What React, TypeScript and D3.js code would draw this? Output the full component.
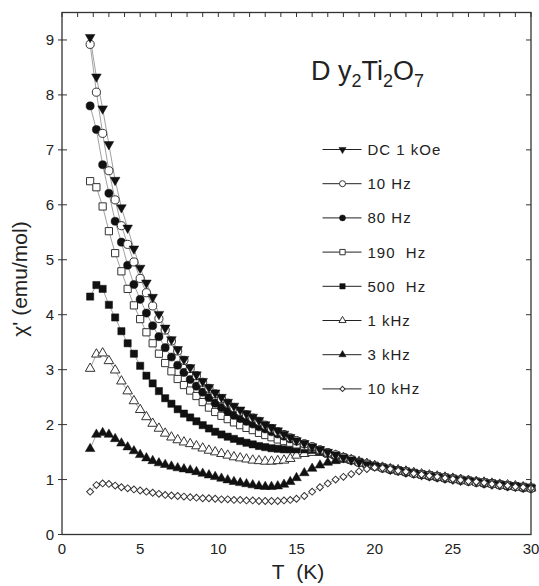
import * as d3 from 'd3';

// Temperature grid (K) shared by all series
const TEMPS = [
  1.8, 2.2, 2.6, 3.0, 3.4, 3.8, 4.2, 4.6, 5.0, 5.4,
  5.8, 6.2, 6.6, 7.0, 7.4, 7.8, 8.2, 8.6, 9.0, 9.4,
  9.8, 10.2, 10.6, 11.0, 11.4, 11.8, 12.2, 12.6, 13.0, 13.4,
  13.8, 14.2, 14.6, 15.0,
  15.5, 16.0, 16.5, 17.0, 17.5, 18.0, 18.5, 19.0, 19.5, 20.0,
  20.5, 21.0, 21.5, 22.0, 22.5, 23.0, 23.5, 24.0, 24.5, 25.0,
  25.5, 26.0, 26.5, 27.0, 27.5, 28.0, 28.5, 29.0, 29.5, 30.0
];

const DC_1KOE = [
  9.05, 8.33, 7.75, 7.10, 6.45, 5.95, 5.58, 5.20, 4.85, 4.58,
  4.32, 4.01, 3.76, 3.55, 3.37, 3.19, 3.04, 2.91, 2.79, 2.68,
  2.58, 2.50, 2.41, 2.34, 2.27, 2.20, 2.14, 2.08, 2.00, 1.95,
  1.89, 1.83, 1.77, 1.71,
  1.66, 1.60, 1.55, 1.50, 1.45, 1.40, 1.36, 1.32, 1.28, 1.25,
  1.22, 1.19, 1.17, 1.14, 1.12, 1.09, 1.07, 1.05, 1.03, 1.01,
  0.99, 0.98, 0.96, 0.94, 0.92, 0.91, 0.89, 0.88, 0.86, 0.85
];

const HZ_10 = [
  8.92, 8.05, 7.30, 6.62, 6.09, 5.62, 5.28, 4.96, 4.66, 4.40,
  4.16, 3.93, 3.72, 3.52, 3.34, 3.17, 3.02, 2.89, 2.77, 2.66,
  2.56, 2.47, 2.39, 2.31, 2.24, 2.18, 2.12, 2.06, 1.99, 1.93,
  1.87, 1.82, 1.76, 1.71,
  1.65, 1.60, 1.54, 1.49, 1.45, 1.40, 1.36, 1.31, 1.28, 1.24,
  1.21, 1.19, 1.16, 1.14, 1.11, 1.09, 1.07, 1.05, 1.03, 1.01,
  0.99, 0.97, 0.95, 0.94, 0.92, 0.90, 0.89, 0.87, 0.86, 0.84
];

const HZ_80 = [
  7.80, 7.37, 6.73, 6.21, 5.70, 5.32, 4.90, 4.55, 4.28, 4.03,
  3.80, 3.60, 3.40, 3.23, 3.08, 2.95, 2.82, 2.70, 2.59, 2.49,
  2.39, 2.31, 2.24, 2.17, 2.11, 2.06, 2.01, 1.96, 1.92, 1.87,
  1.83, 1.79, 1.74, 1.70,
  1.65, 1.59, 1.54, 1.49, 1.44, 1.40, 1.35, 1.31, 1.27, 1.24,
  1.21, 1.18, 1.16, 1.13, 1.11, 1.09, 1.06, 1.04, 1.02, 1.01,
  0.99, 0.97, 0.95, 0.93, 0.92, 0.90, 0.88, 0.87, 0.85, 0.84
];

const HZ_190 = [
  6.43, 6.32, 5.97, 5.52, 5.12, 4.79, 4.47, 4.17, 3.92, 3.68,
  3.48, 3.29, 3.12, 2.97, 2.83, 2.72, 2.62, 2.52, 2.41, 2.31,
  2.23, 2.16, 2.10, 2.04, 1.99, 1.94, 1.90, 1.85, 1.81, 1.77,
  1.73, 1.70, 1.67, 1.64,
  1.61, 1.57, 1.53, 1.48, 1.44, 1.40, 1.36, 1.32, 1.28, 1.25,
  1.22, 1.19, 1.16, 1.14, 1.12, 1.09, 1.07, 1.05, 1.03, 1.01,
  0.99, 0.98, 0.96, 0.94, 0.93, 0.91, 0.89, 0.88, 0.86, 0.85
];

const HZ_500 = [
  4.33, 4.54, 4.47, 4.18, 3.95, 3.70, 3.48, 3.29, 3.07, 2.89,
  2.75, 2.61, 2.48, 2.38, 2.28, 2.20, 2.13, 2.06, 1.99, 1.93,
  1.87, 1.82, 1.78, 1.74, 1.70, 1.67, 1.64, 1.61, 1.59, 1.57,
  1.56, 1.55, 1.55, 1.55,
  1.55, 1.54, 1.51, 1.47, 1.44, 1.40, 1.36, 1.32, 1.29, 1.25,
  1.22, 1.20, 1.17, 1.15, 1.12, 1.10, 1.08, 1.06, 1.04, 1.02,
  1.00, 0.98, 0.96, 0.95, 0.93, 0.91, 0.90, 0.88, 0.87, 0.85
];

const KHZ_1 = [
  3.02, 3.28, 3.30, 3.16, 2.99, 2.79, 2.61, 2.43, 2.27, 2.14,
  2.02, 1.93, 1.84, 1.77, 1.72, 1.68, 1.65, 1.61, 1.57, 1.53,
  1.50, 1.47, 1.44, 1.41, 1.39, 1.37, 1.35, 1.34, 1.33, 1.33,
  1.34, 1.35, 1.38, 1.44,
  1.47, 1.49, 1.49, 1.47, 1.44, 1.40, 1.36, 1.32, 1.29, 1.25,
  1.22, 1.19, 1.17, 1.15, 1.12, 1.10, 1.08, 1.06, 1.04, 1.02,
  1.00, 0.98, 0.96, 0.95, 0.93, 0.91, 0.90, 0.88, 0.86, 0.85
];

const KHZ_3 = [
  1.56, 1.82, 1.85, 1.82, 1.74, 1.66, 1.59, 1.52, 1.45, 1.39,
  1.34, 1.30, 1.27, 1.24, 1.21, 1.19, 1.17, 1.14, 1.11, 1.08,
  1.05, 1.02, 0.99, 0.96, 0.94, 0.92, 0.90, 0.88, 0.87, 0.87,
  0.88, 0.91, 0.96, 1.03,
  1.12, 1.20, 1.26, 1.31, 1.34, 1.36, 1.35, 1.32, 1.28, 1.25,
  1.22, 1.19, 1.17, 1.14, 1.12, 1.09, 1.07, 1.05, 1.03, 1.01,
  0.99, 0.98, 0.96, 0.94, 0.92, 0.91, 0.89, 0.88, 0.86, 0.84
];

const KHZ_10 = [
  0.78, 0.90, 0.93, 0.92, 0.89, 0.86, 0.84, 0.82, 0.80, 0.78,
  0.76, 0.74, 0.72, 0.71, 0.70, 0.69, 0.68, 0.67, 0.66, 0.66,
  0.65, 0.64, 0.64, 0.63, 0.63, 0.62, 0.62, 0.61, 0.61, 0.61,
  0.61, 0.62, 0.63, 0.65,
  0.70, 0.78, 0.86, 0.93, 1.00, 1.05, 1.10, 1.15, 1.19, 1.22,
  1.21, 1.19, 1.16, 1.14, 1.11, 1.09, 1.07, 1.05, 1.03, 1.01,
  0.99, 0.97, 0.96, 0.94, 0.92, 0.90, 0.89, 0.87, 0.86, 0.84
];

const X_TICKS = [0, 5, 10, 15, 20, 25, 30];
const Y_TICKS = [0, 1, 2, 3, 4, 5, 6, 7, 8, 9];

type Shape = 'triDown' | 'triUp' | 'circle' | 'square' | 'diamond';

const SERIES: { label: string; values: number[]; shape: Shape; filled: boolean }[] = [
  { label: 'DC 1 kOe', values: DC_1KOE, shape: 'triDown', filled: true },
  { label: '10 Hz', values: HZ_10, shape: 'circle', filled: false },
  { label: '80 Hz', values: HZ_80, shape: 'circle', filled: true },
  { label: '190  Hz', values: HZ_190, shape: 'square', filled: false },
  { label: '500  Hz', values: HZ_500, shape: 'square', filled: true },
  { label: '1 kHz', values: KHZ_1, shape: 'triUp', filled: false },
  { label: '3 kHz', values: KHZ_3, shape: 'triUp', filled: true },
  { label: '10 kHz', values: KHZ_10, shape: 'diamond', filled: false }
];

// drawing order (back to front)
const DRAW_ORDER = [6, 5, 4, 3, 2, 1, 0, 7];

const FONT = '"Liberation Sans", Arial, sans-serif';
const INK = '#222';

function symbolPath(shape: Shape, scale: number) {
  const gen = d3.symbol();
  if (shape === 'circle') return gen.type(d3.symbolCircle).size(52 * scale)();
  if (shape === 'square') return gen.type(d3.symbolSquare).size(52 * scale)();
  if (shape === 'diamond') return gen.type(d3.symbolSquare).size(24 * scale)();
  return gen.type(d3.symbolTriangle).size(40 * scale)();
}

function symbolRotate(shape: Shape) {
  if (shape === 'triDown') return 180;
  if (shape === 'diamond') return 45;
  return 0;
}

function Marker({ shape, filled, cx, cy, scale = 1 }: { shape: Shape; filled: boolean; cx: number; cy: number; scale?: number }) {
  return (
    <path
      d={symbolPath(shape, scale) || ''}
      transform={`translate(${cx},${cy}) rotate(${symbolRotate(shape)})`}
      fill={filled ? '#111' : '#fff'}
      stroke={filled ? '#111' : '#333'}
      strokeWidth={filled ? 0.5 : 1}
    />
  );
}

export default function App() {
  const width = 539;
  const height = 586;
  const x = d3.scaleLinear().domain([0, 30]).range([62, 531]);
  const y = d3.scaleLinear().domain([0, 9.5]).range([534.5, 12.5]);

  const line = d3.line<number>()
    .x((_, i) => x(TEMPS[i]))
    .y(d => y(d));

  const topTicks = d3.range(0, 31, 1);
  const rightTicks = d3.range(0, 10, 1);

  const legendX = 322.5;
  const legendY = 149.5;
  const legendStep = 34.2;

  return (
    <svg
      width={width}
      height={height}
      style={{ position: 'absolute', left: 0, top: 0, display: 'block', background: '#fff' }}
    >
      <rect x={0} y={0} width={width} height={height} fill="#fff" />

      {/* connecting lines */}
      {SERIES.map(s => (
        <path key={'l' + s.label} d={line(s.values) || ''} fill="none" stroke="#777" strokeWidth={0.7} />
      ))}

      {/* markers */}
      {DRAW_ORDER.map(idx => {
        const s = SERIES[idx];
        return (
          <g key={'m' + s.label}>
            {s.values.map((v, i) => (
              <Marker key={i} shape={s.shape} filled={s.filled} cx={x(TEMPS[i])} cy={y(v)} />
            ))}
          </g>
        );
      })}

      {/* frame */}
      <rect x={62} y={12.5} width={469} height={522} fill="none" stroke="#333" strokeWidth={1.3} />

      {/* top ticks */}
      {topTicks.map(t => (
        <line key={'tt' + t} x1={x(t)} x2={x(t)} y1={12.5} y2={17} stroke="#333" strokeWidth={1} />
      ))}
      {/* right ticks */}
      {rightTicks.map(t => (
        <line key={'rt' + t} x1={526} x2={531} y1={y(t)} y2={y(t)} stroke="#333" strokeWidth={1} />
      ))}
      {/* left ticks */}
      {Y_TICKS.map(t => (
        <g key={'yl' + t}>
          <line x1={58} x2={67} y1={y(t)} y2={y(t)} stroke="#333" strokeWidth={1} />
          <text x={54} y={y(t) + 5.5} textAnchor="end" fontFamily={FONT} fontSize={15} fill={INK}>{t}</text>
        </g>
      ))}
      {/* bottom labels */}
      {X_TICKS.map(t => (
        <text key={'xl' + t} x={x(t)} y={554} textAnchor="middle" fontFamily={FONT} fontSize={15} fill={INK}>{t}</text>
      ))}

      {/* axis titles */}
      <text x={298} y={579} textAnchor="middle" fontFamily={FONT} fontSize={21} wordSpacing={6} fill={INK}>T (K)</text>
      <text
        transform={`translate(27,279) rotate(-90)`}
        textAnchor="middle"
        fontFamily={FONT}
        fontSize={21}
        fill={INK}
      >
        χ' (emu/mol)
      </text>

      {/* compound label */}
      <text x={311} y={80} fontFamily={FONT} fontSize={27} fill={INK}>
        D y<tspan fontSize={18} dy={7}>2</tspan>
        <tspan dy={-7}>Ti</tspan>
        <tspan fontSize={18} dy={7}>2</tspan>
        <tspan dy={-7}>O</tspan>
        <tspan fontSize={18} dy={7}>7</tspan>
      </text>

      {/* legend */}
      {SERIES.map((s, i) => {
        const ly = legendY + i * legendStep;
        return (
          <g key={'lg' + s.label}>
            <line x1={legendX} x2={legendX + 39} y1={ly} y2={ly} stroke="#222" strokeWidth={1} />
            <Marker shape={s.shape} filled={s.filled} cx={legendX + 20} cy={ly} scale={0.55} />
            <text x={legendX + 45} y={ly + 5.5} fontFamily={FONT} fontSize={15} letterSpacing={1} fill={INK} style={{ whiteSpace: 'pre' }}>
              {s.label}
            </text>
          </g>
        );
      })}
    </svg>
  );
}
